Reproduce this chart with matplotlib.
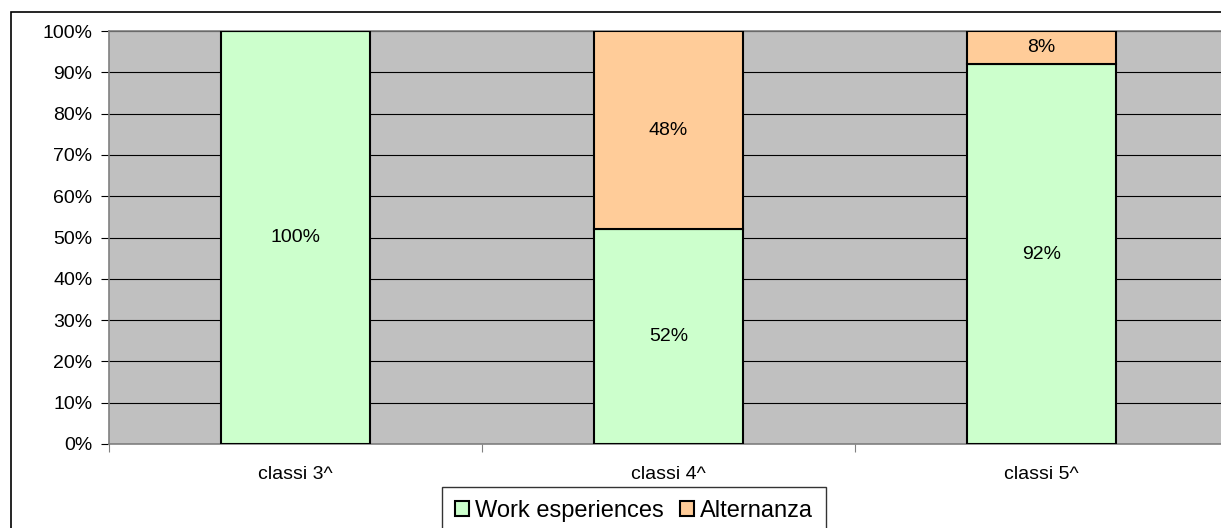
import matplotlib.pyplot as plt
from matplotlib.patches import Rectangle

categories = ['classi 3^', 'classi 4^', 'classi 5^']
work = [100, 52, 92]
alternanza = [0, 48, 8]

plt.rcParams['font.family'] = ['Liberation Sans', 'DejaVu Sans']

W, H = 1221, 528
fig = plt.figure(figsize=(W / 100, H / 100), dpi=100)

# outer chart frame (runs off the right and bottom edges)
fig.patches.append(Rectangle((11 / W, -0.1), 1.2, (528 - 12) / H + 0.1,
                             transform=fig.transFigure, fill=False,
                             edgecolor='black', linewidth=1.2))

ax = fig.add_axes([109 / W, 84 / H, 1119 / W, 413 / H])
ax.set_facecolor('#C0C0C0')

x = range(len(categories))
b1 = ax.bar(x, work, width=0.4, color='#CCFFCC', edgecolor='black',
            linewidth=1.5, label='Work esperiences', zorder=3)
b2 = ax.bar(x, alternanza, width=0.4, bottom=work, color='#FFCC99',
            edgecolor='black', linewidth=1.5, label='Alternanza', zorder=3)

for i in x:
    if work[i] > 0:
        ax.text(i, work[i] / 2, f'{work[i]}%', ha='center', va='center',
                fontsize=14, zorder=4)
    if alternanza[i] > 0:
        ax.text(i, work[i] + alternanza[i] / 2, f'{alternanza[i]}%',
                ha='center', va='center', fontsize=14, zorder=4)

ax.set_xlim(-0.5, 2.5)
ax.set_ylim(0, 100)
ax.set_yticks(range(0, 101, 10))
ax.set_yticklabels([f'{v}%' for v in range(0, 101, 10)], fontsize=14)
ax.yaxis.grid(True, color='black', linewidth=0.8, zorder=1)
ax.set_axisbelow(True)

ax.set_xticks([-0.5, 0.5, 1.5, 2.5])
ax.set_xticklabels([])
ax.set_xticks(list(x), minor=True)
ax.set_xticklabels(categories, minor=True, fontsize=14)
ax.tick_params(axis='x', which='major', length=6, color='#808080')
ax.tick_params(axis='x', which='minor', length=0, pad=16)
ax.tick_params(axis='y', length=6, pad=6, color='black')

for s in ax.spines.values():
    s.set_color('#808080')
    s.set_linewidth(1.2)

leg = fig.legend(handles=[b1, b2], loc='upper left',
                 bbox_to_anchor=(442 / W, 1 - 487 / H), ncol=2, fontsize=17,
                 frameon=True, fancybox=False, edgecolor='black',
                 handlelength=0.6, handleheight=0.6, handletextpad=0.25,
                 columnspacing=0.7, borderpad=0.55, borderaxespad=0)
leg.get_frame().set_linewidth(1.0)

fig.savefig('out.png', dpi=100)
